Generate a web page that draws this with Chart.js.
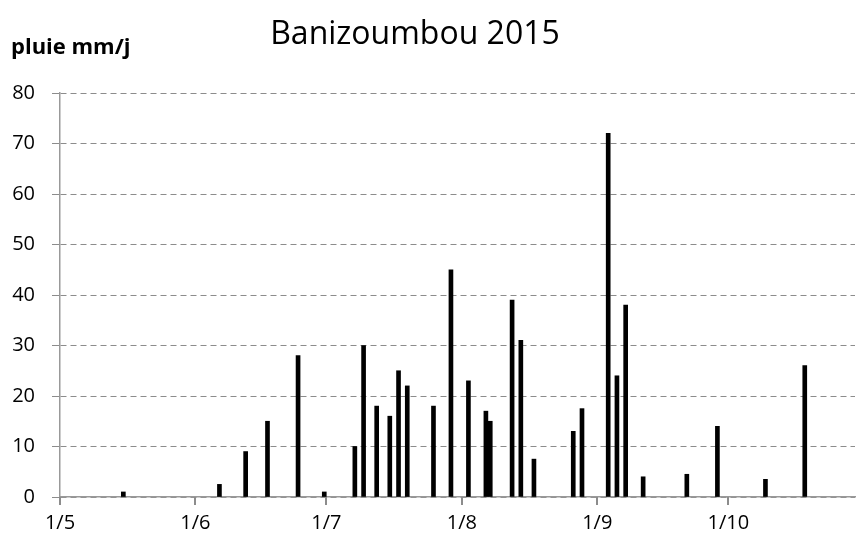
<!DOCTYPE html>
<html>
<head>
<meta charset="utf-8">
<script src="https://cdn.jsdelivr.net/npm/chart.js@4.4.1/dist/chart.umd.min.js"></script>
<style>
    html, body { margin: 0; padding: 0; background: #ffffff; }
    #wrap { width: 856px; height: 543px; }
</style>
</head>
<body>
<div id="wrap"><canvas id="rain"></canvas></div>
<script>
// Rain days (day/month, 2015) and daily rainfall in mm
const rainDates = ["15/5", "6/6", "12/6", "17/6", "24/6", "30/6",
    "7/7", "9/7", "12/7", "15/7", "17/7", "19/7", "25/7", "29/7",
    "2/8", "6/8", "7/8", "12/8", "14/8", "17/8", "26/8", "28/8",
    "3/9", "5/9", "7/9", "11/9", "21/9", "28/9", "9/10", "18/10"];
const rainMm = [1, 2.5, 9, 15, 28, 1,
    10, 30, 18, 16, 25, 22, 18, 45,
    23, 17, 15, 39, 31, 7.5, 13, 17.5,
    72, 24, 38, 4, 4.5, 14, 3.5, 26];
const monthTicks = ["1/5", "1/6", "1/7", "1/8", "1/9", "1/10"];
const lastDay = "30/10";

const fontFamily = "'Open Sans', Lato, sans-serif";

// days since 1 May
function dayIndex(s) {
    let p = s.split("/");
    let d = Date.UTC(2015, parseInt(p[1]) - 1, parseInt(p[0]));
    return Math.round((d - Date.UTC(2015, 4, 1)) / 86400000);
}

const tickValues = monthTicks.map(dayIndex);
const points = rainDates.map((d, i) => ({ x: dayIndex(d) + 0.5, y: rainMm[i] }));

// Title, unit label and the month tick marks under the x axis
const textPlugin = {
    id: "texts",
    afterDraw(chart) {
        let ctx = chart.ctx;
        let xs = chart.scales.x;
        ctx.save();
        ctx.strokeStyle = "#8c8c8c";
        ctx.lineWidth = 2;
        tickValues.forEach(v => {
            let px = Math.round(xs.getPixelForValue(v));
            ctx.beginPath();
            ctx.moveTo(px, xs.top);
            ctx.lineTo(px, xs.top + 8);
            ctx.stroke();
        });
        ctx.fillStyle = "#000000";
        ctx.textBaseline = "middle";
        ctx.textAlign = "center";
        ctx.font = "32px " + fontFamily;
        ctx.fillText("Banizoumbou 2015", 415, 35);
        ctx.textAlign = "left";
        ctx.font = "bold 22px " + fontFamily;
        ctx.fillText("pluie mm/j", 11, 48);
        ctx.restore();
    }
};

new Chart(document.getElementById("rain").getContext("2d"), {
    type: "bar",
    data: {
        datasets: [{
            label: "pluie",
            data: points,
            backgroundColor: "#000000",
            barThickness: 4
        }]
    },
    options: {
        responsive: true,
        maintainAspectRatio: false,
        animation: false,
        layout: { padding: { top: 93, right: 1, left: 0, bottom: 0 } },
        plugins: {
            legend: { display: false },
            tooltip: { enabled: false }
        },
        scales: {
            x: {
                type: "linear",
                offset: false,
                min: 0,
                max: dayIndex(lastDay),
                afterBuildTicks: function (scale) {
                    scale.ticks = tickValues.map(v => ({ value: v }));
                },
                afterFit: function (scale) { scale.height = 46; },
                ticks: {
                    autoSkip: false,
                    maxRotation: 0,
                    color: "#000000",
                    padding: 6,
                    font: { family: fontFamily, size: 20 },
                    callback: function (value) {
                        let i = tickValues.indexOf(value);
                        return i >= 0 ? monthTicks[i] : "";
                    }
                },
                grid: {
                    offset: false,
                    drawOnChartArea: false,
                    drawTicks: true,
                    tickLength: 8,
                    color: "#8c8c8c"
                },
                border: { color: "#999999", width: 1.5 }
            },
            y: {
                min: 0,
                max: 80,
                afterFit: function (scale) { scale.width = 60; },
                ticks: {
                    stepSize: 10,
                    color: "#000000",
                    padding: 17,
                    font: { family: fontFamily, size: 20 }
                },
                grid: {
                    color: "#8c8c8c",
                    lineWidth: 1,
                    tickLength: 8
                },
                border: { color: "#999999", width: 1.5, dash: [6, 4] }
            }
        }
    },
    plugins: [textPlugin]
});
</script>
</body>
</html>
